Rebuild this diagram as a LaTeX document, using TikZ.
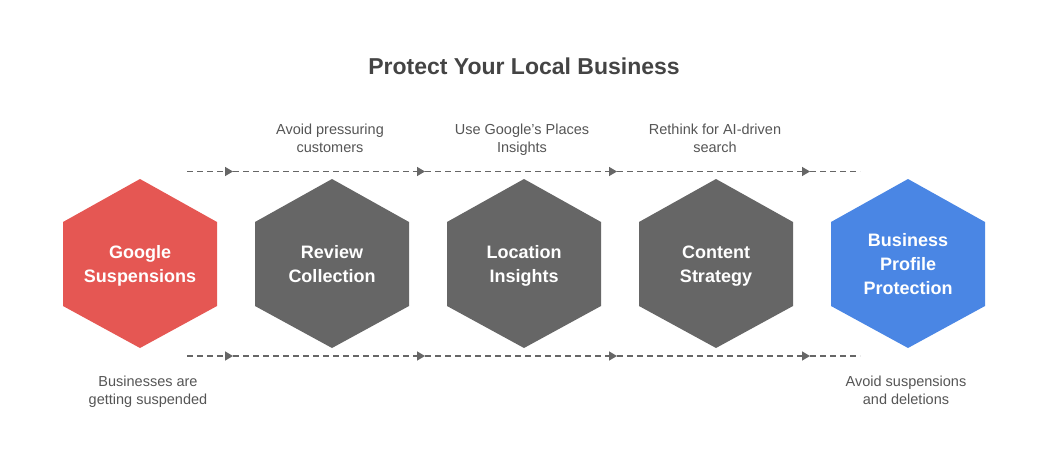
\documentclass[tikz,border=0pt]{standalone}
\usepackage{fontspec}
\setmainfont{Liberation Sans}
\usetikzlibrary{arrows.meta}

\definecolor{hexred}{HTML}{E55753}
\definecolor{hexgray}{HTML}{666666}
\definecolor{hexblue}{HTML}{4A86E4}
\definecolor{titlegray}{HTML}{444444}
\definecolor{notegray}{HTML}{555555}
\definecolor{trackgray}{HTML}{666666}

\begin{document}
\begin{tikzpicture}[x=1pt, y=-1pt,
    hexlabel/.style={text=white, font=\fontsize{18}{24}\selectfont\bfseries, align=center,
        anchor=north, inner sep=0pt},
    note/.style={text=notegray, font=\fontsize{14.5}{18}\selectfont, align=center,
        anchor=north, inner sep=0pt},
    track/.style={trackgray, line width=1.5pt, dash pattern=on 6pt off 4pt,
        -{Triangle[length=8pt, width=9pt]}}]
    \useasboundingbox (0,0) rectangle (1048,468);

    \node[text=titlegray, font=\fontsize{23}{28}\selectfont\bfseries] (title) at (524,66) {Protect Your Local Business};

    % hexagons
    \foreach \cx/\col in {140/hexred, 332/hexgray, 524/hexgray, 716/hexgray, 908/hexblue} {
        \fill[\col] (\cx,179) -- ++(77,43) -- ++(0,84) -- ++(-77,42) -- ++(-77,-42) -- ++(0,-84) -- cycle;
    }

    \node[hexlabel] (gs) at (140,245.5) {Google\\Suspensions};
    \node[hexlabel] (rc) at (332,245.5) {Review\\Collection};
    \node[hexlabel] (li) at (524,245.5) {Location\\Insights};
    \node[hexlabel] (cs) at (716,245.5) {Content\\Strategy};
    \node[hexlabel] (bp) at (908,233.5) {Business\\Profile\\Protection};

    % dashed tracks above and below
    \foreach \r/\y in {t/171.5, b/356} {
        \foreach \i/\x in {0/187, 1/233, 2/425, 3/617, 4/810, 5/860}
            \coordinate (\r\i) at (\x,\y);
        \draw[track] (\r0) -- (\r1);
        \draw[track] (\r1) -- (\r2);
        \draw[track] (\r2) -- (\r3);
        \draw[track] (\r3) -- (\r4);
        \draw[track, -] (\r4) -- (\r5);
    }

    \node[note] (n1) at (330,123.8) {Avoid pressuring\\customers};
    \node[note] (n2) at (522,123.8) {Use Google's Places\\Insights};
    \node[note] (n3) at (715,123.8) {Rethink for AI-driven\\search};
    \node[note] (n4) at (148,375.8) {Businesses are\\getting suspended};
    \node[note] (n5) at (906,375.8) {Avoid suspensions\\and deletions};
\end{tikzpicture}
\end{document}
